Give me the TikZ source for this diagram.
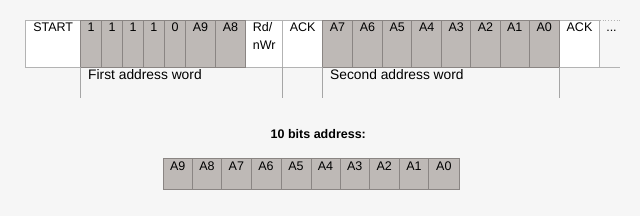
\documentclass[tikz,border=0pt]{standalone}
\usepackage{fontspec}
\setmainfont{Liberation Sans}
\definecolor{bg}{HTML}{F6F6F6}
\definecolor{cellgrey}{HTML}{BEB9B6}
\definecolor{gline}{HTML}{8A8583}
\definecolor{wline}{HTML}{B3B3B3}
\definecolor{tline}{HTML}{A6A6A6}
\begin{document}
\begin{tikzpicture}[x=1pt,y=-1pt,
  cellbase/.style={rectangle, inner sep=0pt, outer sep=0pt, line width=0.8pt, anchor=north west},
  greycell/.style={cellbase, fill=cellgrey, draw=gline},
  whitecell/.style={cellbase, fill=white, draw=wline},
  celltext/.style={inner sep=0pt, anchor=base, font=\fontsize{12.5}{18}\selectfont},
  wordlabel/.style={inner sep=0pt, anchor=base west, font=\fontsize{13.8}{16}\selectfont},
  tick/.style={draw=tline, line width=0.8pt}]
\useasboundingbox (0,0) rectangle (640,216);
\fill[bg] (0,0) rectangle (640,216);
% top row: white cells
\foreach \l/\r/\t/\n in {25.7/80.7/START/ws, 282.7/322.7/ACK/wa, 559.3/599.7/ACK/wb}{
  \pgfmathsetmacro{\w}{\r-\l}
  \node[whitecell, minimum width=\w pt, minimum height=47pt] (\n) at (\l,20) {};
  \node[celltext] at ([yshift=-11.7pt]\n.north) {\t};
}
\node[whitecell, minimum width=37pt, minimum height=47pt] (rw) at (245.7,20) {};
\node[celltext, align=left, anchor=north] at ([yshift=-2.4pt]rw.north) {Rd/\\nWr};
% top row: grey cells
\foreach \l/\r/\t/\n in {80.7/101.7/1/g1, 101.7/122.7/1/g2, 122.7/143.3/1/g3, 143.3/164.3/1/g4,
  164.3/185.7/0/g5, 185.7/215.3/A9/g6, 215.3/245.7/A8/g7,
  322.7/352.3/A7/h1, 352.3/382.7/A6/h2, 382.7/411.7/A5/h3, 411.7/441.7/A4/h4,
  441.7/470.7/A3/h5, 470.7/500.3/A2/h6, 500.3/529.3/A1/h7, 529.3/559.3/A0/h8}{
  \pgfmathsetmacro{\w}{\r-\l}
  \node[greycell, minimum width=\w pt, minimum height=47pt] (\n) at (\l,20) {};
  \node[celltext] at ([yshift=-11.7pt]\n.north) {\t};
}
% trailing open cell
\coordinate (dtop) at (620,20);
\coordinate (dbot) at (620,67);
\draw[wline, line width=0.8pt, dotted] (wb.north east) -- (dtop);
\draw[wline, line width=0.8pt] (wb.south east) -- (dbot);
\node[celltext] at (611.5,31.7) {...};
% ticks below row
\coordinate (t1) at (80.7,98);
\coordinate (t2) at (282.7,98);
\coordinate (t3) at (322.7,98);
\coordinate (t4) at (559.3,98);
\draw[tick] (g1.south west) -- (t1);
\draw[tick] (wa.south west) -- (t2);
\draw[tick] (h1.south west) -- (t3);
\draw[tick] (wb.south west) -- (t4);
\node[wordlabel] (fw) at (88,80) {First address word};
\node[wordlabel] (sw) at (330,80) {Second address word};
% 10 bits address
\node[inner sep=0pt, anchor=base, font=\fontsize{12.5}{15}\selectfont\bfseries] (title) at (318.3,139) {10 bits address:};
\foreach \l/\r/\t/\n in {163.3/192.3/A9/b1, 192.3/221.7/A8/b2, 221.7/251/A7/b3, 251/281/A6/b4,
  281/311/A5/b5, 311/340/A4/b6, 340/369.3/A3/b7, 369.3/399.3/A2/b8, 399.3/428.7/A1/b9, 428.7/459/A0/b10}{
  \pgfmathsetmacro{\w}{\r-\l}
  \node[greycell, minimum width=\w pt, minimum height=31pt] (\n) at (\l,158.3) {};
  \node[celltext] at ([yshift=-12.4pt]\n.north) {\t};
}
\end{tikzpicture}
\end{document}
